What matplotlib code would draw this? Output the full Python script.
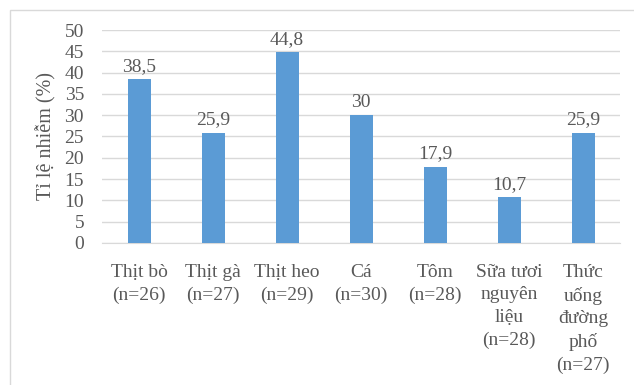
import matplotlib.pyplot as plt
from matplotlib.patches import Rectangle

# Data
categories = ["Thịt bò\n(n=26)", "Thịt gà\n(n=27)", "Thịt heo\n(n=29)", "Cá\n(n=30)",
              "Tôm\n(n=28)", "Sữa tươi\nnguyên\nliệu\n(n=28)", "Thức\nuống\nđường\nphố\n(n=27)"]
values = [38.5, 25.9, 44.8, 30, 17.9, 10.7, 25.9]
value_labels = ["38,5", "25,9", "44,8", "30", "17,9", "10,7", "25,9"]
yticks = [0, 5, 10, 15, 20, 25, 30, 35, 40, 45, 50]

plt.rcParams["font.family"] = ["Liberation Serif", "DejaVu Serif"]
text_color = "#595959"
bar_color = "#5B9BD5"

fig = plt.figure(figsize=(6.34, 3.85), dpi=100)
ax = fig.add_axes([0.161, 0.369, 0.817, 0.553])

# outer chart frame
fig.patches.append(Rectangle((10 / 634, -0.05), 1.1, 1 - 10 / 385 + 0.05,
                             transform=fig.transFigure, fill=False,
                             edgecolor="#D9D9D9", linewidth=1.0))

x = range(len(categories))
ax.bar(x, values, width=0.31, color=bar_color, zorder=3)

for xi, v, lab in zip(x, values, value_labels):
    ax.annotate(lab, (xi, v), xytext=(0, 3), textcoords="offset points",
                ha="center", va="bottom", fontsize=14, color=text_color)

ax.set_ylim(0, 50)
ax.set_xlim(-0.5, len(categories) - 0.5)
ax.set_yticks(yticks)
ax.set_xticks(list(x))
ax.set_xticklabels(categories, fontsize=14, color=text_color, linespacing=1.42)
ax.tick_params(axis="y", labelsize=14, labelcolor=text_color, length=0, pad=13)
ax.tick_params(axis="x", length=0, pad=15)
ax.set_ylabel("Tỉ lệ nhiễm (%)", fontsize=14.5, color=text_color, labelpad=6)

ax.yaxis.grid(True, color="#D9D9D9", linewidth=1.0, zorder=0)
for s in ["top", "right", "left"]:
    ax.spines[s].set_visible(False)
ax.spines["bottom"].set_color("#D9D9D9")

fig.savefig("out.png", dpi=100)
